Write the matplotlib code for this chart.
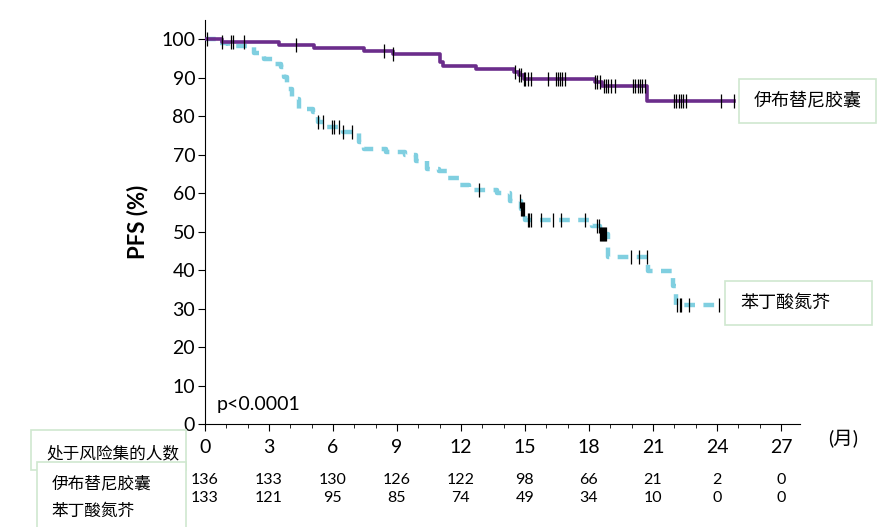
import numpy as np
import matplotlib
matplotlib.use('Agg')
import matplotlib.pyplot as plt
from matplotlib.transforms import blended_transform_factory
from matplotlib.patches import Rectangle
from matplotlib.ticker import MultipleLocator

plt.rcParams['font.family'] = ['Lato', 'Noto Sans CJK SC', 'DejaVu Sans']

# 伊布替尼胶囊 (purple, solid)
ibr_t = [0, 0.8, 3.45, 5.1, 7.45, 8.8, 11.0, 11.15, 12.7, 14.5, 14.7, 14.95, 18.3, 18.6, 20.7, 24.8]
ibr_s = [100, 99.2, 98.4, 97.6, 96.9, 96.1, 94.0, 93.0, 92.4, 91.4, 90.6, 89.8, 88.8, 87.8, 83.9, 83.9]
ibr_cens = [0.1, 0.8, 1.2, 1.3, 1.85, 4.25, 8.4, 8.8, 14.55, 14.7, 14.8, 14.95, 15.0, 15.15,
            15.3, 16.1, 16.45, 16.55, 16.65, 16.75, 16.9, 18.3, 18.4, 18.5, 18.7, 18.8, 18.9,
            19.05, 19.2, 20.05, 20.15, 20.3, 20.4, 20.5, 20.65, 22.0, 22.1, 22.2, 22.3, 22.4,
            22.55, 24.2, 24.8]

# 苯丁酸氮芥 (light blue, dashed)
chl_t = [0, 0.5, 1.1, 2.3, 2.75, 3.2, 3.55, 3.7, 3.85, 4.1, 4.4, 5.05, 5.3, 5.65, 6.45, 7.2,
         7.45, 8.5, 9.4, 9.9, 10.4, 10.95, 11.4, 11.9, 12.4, 13.7, 14.3, 14.8, 15.0, 18.15,
         18.5, 18.9, 20.75, 21.95, 22.1, 24.15]
chl_s = [100, 99.1, 98.3, 96.5, 94.8, 93.5, 92.7, 90.1, 87.0, 84.4, 82.0, 81.0, 78.6, 77.2,
         76.0, 73.4, 71.4, 70.8, 69.9, 68.3, 66.4, 65.7, 64.0, 62.0, 60.8, 60.0, 57.9, 56.0,
         53.0, 51.4, 49.5, 43.5, 39.7, 36.0, 31.0, 31.0]
chl_cens = [5.3, 5.55, 5.95, 6.05, 6.3, 6.45, 6.9, 12.85, 14.75, 14.8, 14.85, 14.9, 14.95,
            15.15, 15.2, 15.3, 15.75, 16.3, 16.7, 17.8, 18.4, 18.45, 18.5, 18.55, 18.6, 18.65,
            18.7, 18.75, 18.8, 19.95, 20.35, 20.7, 22.15, 22.25, 22.3, 22.7, 24.1]

risk_times = [0, 3, 6, 9, 12, 15, 18, 21, 24, 27]
risk_ibr = [136, 133, 130, 126, 122, 98, 66, 21, 2, 0]
risk_chl = [133, 121, 95, 85, 74, 49, 34, 10, 0, 0]

purple = '#6b2d8b'
cyan = '#80cfe0'
box_col = '#cfe8cf'


def step_at(t, s, x):
    idx = np.searchsorted(t, x, side='right') - 1
    return np.asarray(s)[idx]


fig = plt.figure(figsize=(8.91, 5.27), dpi=100)
ax = fig.add_axes([0.230, 0.1954, 0.668, 0.7666])

ax.step(chl_t, chl_s, where='post', color=cyan, lw=3.2, ls=(0, (2.4, 1.9)), zorder=2)
ax.step(ibr_t, ibr_s, where='post', color=purple, lw=2.6, zorder=3)
ax.plot(ibr_cens, step_at(ibr_t, ibr_s, ibr_cens), ls='none', marker='|', ms=10,
        mew=0.9, color='black', zorder=4)
ax.plot(chl_cens, step_at(chl_t, chl_s, chl_cens), ls='none', marker='|', ms=10,
        mew=0.9, color='black', zorder=4)

ax.set_xlim(0, 27.9)
ax.set_ylim(0, 105)
ax.xaxis.set_major_locator(MultipleLocator(3))
ax.xaxis.set_minor_locator(MultipleLocator(1))
ax.set_yticks(range(0, 101, 10))
ax.spines['top'].set_visible(False)
ax.spines['right'].set_visible(False)
ax.tick_params(axis='y', labelsize=14, length=5, pad=2)
ax.tick_params(axis='x', which='major', labelsize=14, length=5, pad=6)
ax.tick_params(axis='x', which='minor', length=3)
ax.set_ylabel('PFS (%)', fontsize=16, fontweight='bold', labelpad=9)

ax.text(0.55, 5, 'p<0.0001', fontsize=14, va='center')

# series label boxes
fig.add_artist(Rectangle((739 / 891, 1 - 123 / 527), 137 / 891, 44 / 527,
                         transform=fig.transFigure, fill=False, ec=box_col, lw=1.2))
fig.text(754 / 891, 1 - 101 / 527, '伊布替尼胶囊', fontsize=13, va='center')
fig.add_artist(Rectangle((725 / 891, 1 - 325 / 527), 147 / 891, 44 / 527,
                         transform=fig.transFigure, fill=False, ec=box_col, lw=1.2))
fig.text(740 / 891, 1 - 303 / 527, '苯丁酸氮芥', fontsize=13, va='center')

fig.text(843 / 891, 1 - 439 / 527, '(月)', fontsize=14, ha='center', va='center')

# number at risk table
fig.add_artist(Rectangle((31 / 891, 1 - 470 / 527), 155 / 891, 40 / 527,
                         transform=fig.transFigure, fill=False, ec=box_col, lw=1.2))
fig.text(46 / 891, 1 - 453 / 527, '处于风险集的人数', fontsize=12, va='center')
fig.add_artist(Rectangle((37 / 891, 1 - 530 / 527), 149 / 891, 68 / 527,
                         transform=fig.transFigure, fc='white', ec=box_col, lw=1.2))
fig.text(52 / 891, 1 - 483 / 527, '伊布替尼胶囊', fontsize=12, va='center')
fig.text(52 / 891, 1 - 511 / 527, '苯丁酸氮芥', fontsize=12, va='center')

trans = blended_transform_factory(ax.transData, fig.transFigure)
for x, a, b in zip(risk_times, risk_ibr, risk_chl):
    ax.text(x, 1 - 480 / 527, str(a), transform=trans, ha='center', va='center',
            fontsize=11.5, clip_on=False)
    ax.text(x, 1 - 498 / 527, str(b), transform=trans, ha='center', va='center',
            fontsize=11.5, clip_on=False)

fig.savefig('out.png', dpi=100)
